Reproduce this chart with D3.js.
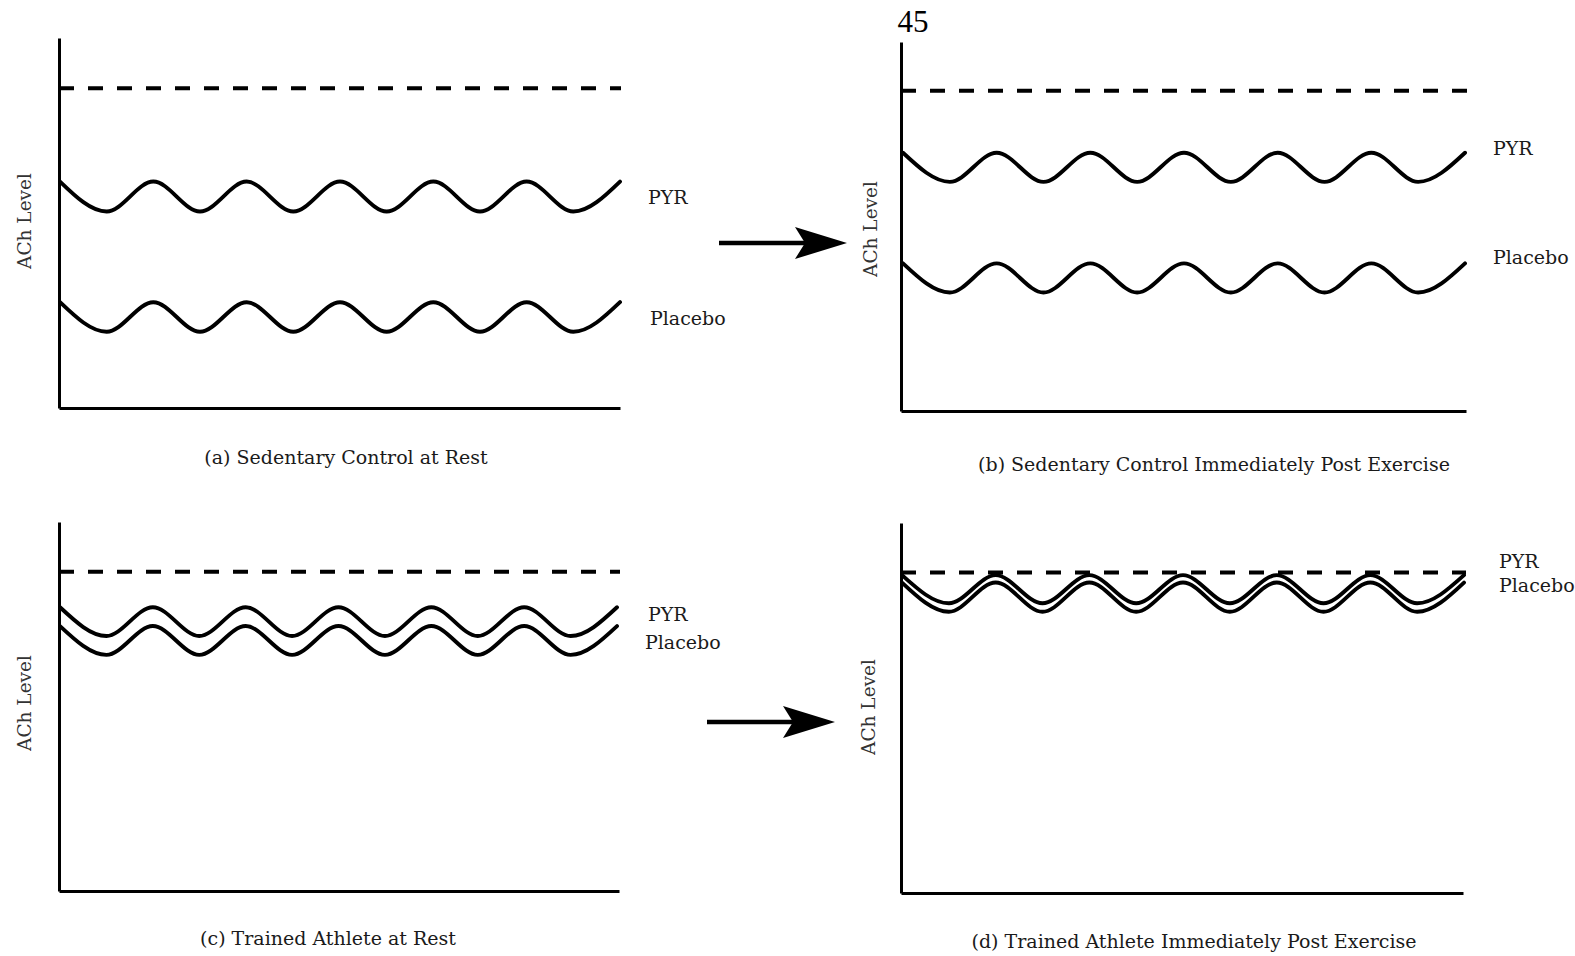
<!DOCTYPE html>
<html>
<head>
<meta charset="utf-8">
<script src="https://cdn.jsdelivr.net/npm/d3@7"></script>
<style>
  html, body { margin: 0; padding: 0; background: #ffffff; }
  svg { display: block; }
</style>
</head>
<body>
<svg id="chart" width="1575" height="956"></svg>
<script>
// ---------------- DATA ----------------
const panelIds = ["a", "b", "c", "d"];
const captions = [
  "(a) Sedentary Control at Rest",
  "(b) Sedentary Control Immediately Post Exercise",
  "(c) Trained Athlete at Rest",
  "(d) Trained Athlete Immediately Post Exercise"
];
const yAxisLabel = "ACh Level";
const seriesNames = ["PYR", "Placebo"];
const pageNumber = "45";

// reference (dashed) ACh level per panel, on a 0-100 scale
const referenceLevel = [86.4, 86.8, 86.5, 86.6];

// oscillating ACh level read at each crest / trough (13 nodes = 6 cycles)
const pyrA     = [61.2, 53.1, 61.2, 53.1, 61.2, 53.1, 61.2, 53.1, 61.2, 53.1, 61.2, 53.1, 61.2];
const placeboA = [28.6, 20.6, 28.6, 20.6, 28.6, 20.6, 28.6, 20.6, 28.6, 20.6, 28.6, 20.6, 28.6];
const pyrB     = [70.0, 62.1, 70.0, 62.1, 70.0, 62.1, 70.0, 62.1, 70.0, 62.1, 70.0, 62.1, 70.0];
const placeboB = [40.0, 32.1, 40.0, 32.1, 40.0, 32.1, 40.0, 32.1, 40.0, 32.1, 40.0, 32.1, 40.0];
const pyrC     = [76.9, 69.1, 76.9, 69.1, 76.9, 69.1, 76.9, 69.1, 76.9, 69.1, 76.9, 69.1, 76.9];
const placeboC = [71.8, 64.0, 71.8, 64.0, 71.8, 64.0, 71.8, 64.0, 71.8, 64.0, 71.8, 64.0, 71.8];
const pyrD     = [85.9, 78.3, 85.9, 78.3, 85.9, 78.3, 85.9, 78.3, 85.9, 78.3, 85.9, 78.3, 85.9];
const placeboD = [83.9, 76.0, 83.9, 76.0, 83.9, 76.0, 83.9, 76.0, 83.9, 76.0, 83.9, 76.0, 83.9];

const pyrSeries = [pyrA, pyrB, pyrC, pyrD];
const placeboSeries = [placeboA, placeboB, placeboC, placeboD];

// ---------------- LAYOUT ----------------
const serif = "'DejaVu Serif', 'Liberation Serif', serif";
const layout = [
  { ax: 59,  top: 38,  bottom: 408, xEnd: 620, waveX0: 60,  waveX1: 620, dashX1: 621,
    labels: [[648, 197], [650, 318]], yLab: [24, 221], cap: [346, 457] },
  { ax: 901, top: 42,  bottom: 411, xEnd: 1466, waveX0: 903, waveX1: 1465, dashX1: 1467,
    labels: [[1493, 148], [1493, 257]], yLab: [870, 229], cap: [1214, 464] },
  { ax: 59,  top: 522, bottom: 891, xEnd: 619, waveX0: 60,  waveX1: 617, dashX1: 620,
    labels: [[648, 614], [645, 642]], yLab: [24, 703], cap: [328, 938] },
  { ax: 901, top: 523, bottom: 893, xEnd: 1463, waveX0: 902, waveX1: 1464, dashX1: 1466,
    labels: [[1499, 561], [1499, 585]], yLab: [868, 707], cap: [1194, 941] }
];
const arrows = [
  { x0: 719, x1: 847, y: 243 },
  { x0: 707, x1: 835, y: 722 }
];

// ---------------- DRAW ----------------
const svg = d3.select("#chart");
svg.append("rect").attr("width", 1575).attr("height", 956).attr("fill", "#ffffff");

panelIds.forEach((id, i) => {
  const L = layout[i];
  const g = svg.append("g").attr("class", "panel-" + id);

  const y = d3.scaleLinear().domain([0, 100]).range([L.bottom, L.top]);
  const xw = d3.scaleLinear().domain([0, pyrSeries[i].length - 1]).range([L.waveX0, L.waveX1]);
  const xa = d3.scaleLinear().domain([0, 1]).range([L.ax, L.xEnd]);

  // axes (no ticks)
  const yAxis = d3.axisLeft(y).tickValues([]).tickSizeOuter(0);
  g.append("g").attr("transform", `translate(${L.ax},0)`).call(yAxis)
    .select(".domain").attr("stroke", "#000").attr("stroke-width", 3);
  const xAxis = d3.axisBottom(xa).tickValues([]).tickSizeOuter(0);
  g.append("g").attr("transform", `translate(0,${L.bottom})`).call(xAxis)
    .select(".domain").attr("stroke", "#000").attr("stroke-width", 3.2);

  // reference dashed line
  g.append("line")
    .attr("x1", L.ax).attr("x2", L.dashX1)
    .attr("y1", y(referenceLevel[i])).attr("y2", y(referenceLevel[i]))
    .attr("stroke", "#000").attr("stroke-width", 4)
    .attr("stroke-dasharray", "15,14");

  // oscillating series
  const line = d3.line()
    .x((d, k) => xw(k))
    .y(d => y(d))
    .curve(d3.curveMonotoneX);
  [pyrSeries[i], placeboSeries[i]].forEach(s => {
    g.append("path").datum(s)
      .attr("d", line)
      .attr("fill", "none")
      .attr("stroke", "#000")
      .attr("stroke-width", 3.9)
      .attr("stroke-linecap", "round");
  });

  // series labels
  seriesNames.forEach((name, k) => {
    g.append("text")
      .attr("x", L.labels[k][0]).attr("y", L.labels[k][1])
      .attr("dominant-baseline", "central")
      .style("font-family", serif)
      .style("font-size", "19px")
      .style("fill", "#1a1a1a")
      .text(name);
  });

  // y axis label
  g.append("text")
    .attr("transform", `translate(${L.yLab[0]},${L.yLab[1]}) rotate(-90)`)
    .attr("text-anchor", "middle")
    .attr("dominant-baseline", "central")
    .style("font-family", serif)
    .style("font-size", "18.5px")
    .style("fill", "#333")
    .text(yAxisLabel);

  // caption
  g.append("text")
    .attr("x", L.cap[0]).attr("y", L.cap[1])
    .attr("text-anchor", "middle")
    .attr("dominant-baseline", "central")
    .style("font-family", serif)
    .style("font-size", "19px")
    .style("fill", "#1a1a1a")
    .text(captions[i]);
});

// arrows between panels
arrows.forEach(a => {
  const g = svg.append("g");
  g.append("line")
    .attr("x1", a.x0).attr("x2", a.x1 - 40)
    .attr("y1", a.y).attr("y2", a.y)
    .attr("stroke", "#000").attr("stroke-width", 4.5);
  const p = d3.path();
  p.moveTo(a.x1, a.y);
  p.lineTo(a.x1 - 52, a.y - 16);
  p.lineTo(a.x1 - 42, a.y);
  p.lineTo(a.x1 - 52, a.y + 16);
  p.closePath();
  g.append("path").attr("d", p.toString()).attr("fill", "#000");
});

// page number
svg.append("text")
  .attr("x", 913).attr("y", 32)
  .attr("text-anchor", "middle")
  .style("font-family", "'Liberation Serif', 'Times New Roman', serif")
  .style("font-size", "31px")
  .style("fill", "#000")
  .text(pageNumber);
</script>
</body>
</html>
